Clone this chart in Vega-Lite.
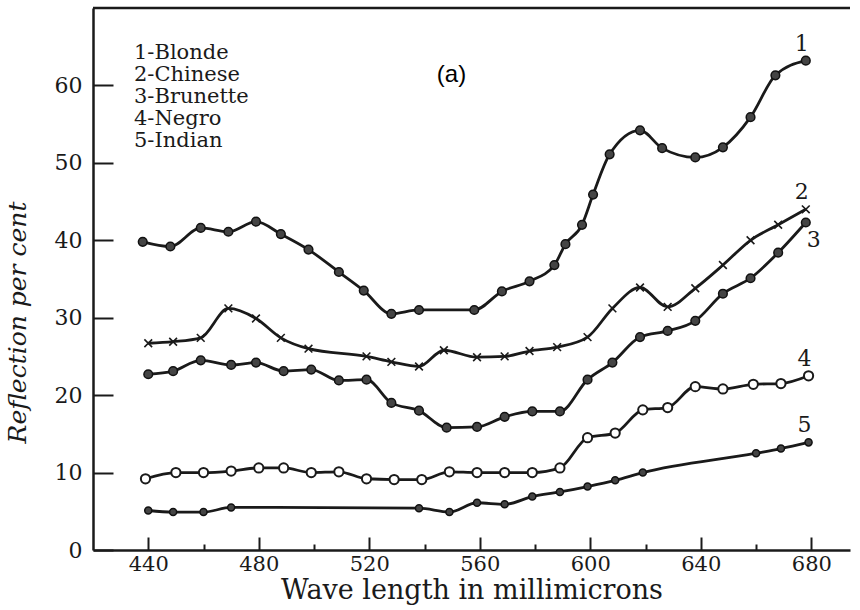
{
  "$schema": "https://vega.github.io/schema/vega-lite/v6.json",
  "width": 757,
  "height": 542,
  "autosize": {"type": "none"},
  "padding": {"left": 93, "top": 8, "right": 10, "bottom": 60},
  "background": "white",
  "config": {"view": {"stroke": null}, "font": "DejaVu Serif"},
  "title": {
    "text": "(a)",
    "font": "Liberation Sans",
    "fontSize": 24,
    "fontWeight": "normal",
    "color": "#000000",
    "anchor": "middle",
    "frame": "group",
    "orient": "top",
    "offset": 0,
    "baseline": "middle",
    "dx": -20,
    "dy": 92
  },
  "data": {
    "values": [
      {"curve": "1", "nm": 438, "refl": 39.8},
      {"curve": "1", "nm": 448, "refl": 39.2},
      {"curve": "1", "nm": 459, "refl": 41.6},
      {"curve": "1", "nm": 469, "refl": 41.1},
      {"curve": "1", "nm": 479, "refl": 42.4},
      {"curve": "1", "nm": 488, "refl": 40.8},
      {"curve": "1", "nm": 498, "refl": 38.8},
      {"curve": "1", "nm": 509, "refl": 35.9},
      {"curve": "1", "nm": 518, "refl": 33.5},
      {"curve": "1", "nm": 528, "refl": 30.5},
      {"curve": "1", "nm": 538, "refl": 31.0},
      {"curve": "1", "nm": 558, "refl": 31.0},
      {"curve": "1", "nm": 568, "refl": 33.4},
      {"curve": "1", "nm": 578, "refl": 34.7},
      {"curve": "1", "nm": 587, "refl": 36.8},
      {"curve": "1", "nm": 591, "refl": 39.5},
      {"curve": "1", "nm": 597, "refl": 42.0},
      {"curve": "1", "nm": 601, "refl": 45.9},
      {"curve": "1", "nm": 607, "refl": 51.1},
      {"curve": "1", "nm": 618, "refl": 54.2},
      {"curve": "1", "nm": 626, "refl": 51.9},
      {"curve": "1", "nm": 638, "refl": 50.7},
      {"curve": "1", "nm": 648, "refl": 52.0},
      {"curve": "1", "nm": 658, "refl": 55.9},
      {"curve": "1", "nm": 667, "refl": 61.3},
      {"curve": "1", "nm": 678, "refl": 63.2},
      {"curve": "2", "nm": 440, "refl": 26.7},
      {"curve": "2", "nm": 449, "refl": 26.9},
      {"curve": "2", "nm": 459, "refl": 27.4},
      {"curve": "2", "nm": 469, "refl": 31.2},
      {"curve": "2", "nm": 479, "refl": 29.9},
      {"curve": "2", "nm": 488, "refl": 27.4},
      {"curve": "2", "nm": 498, "refl": 26.0},
      {"curve": "2", "nm": 519, "refl": 25.0},
      {"curve": "2", "nm": 528, "refl": 24.3},
      {"curve": "2", "nm": 538, "refl": 23.7},
      {"curve": "2", "nm": 547, "refl": 25.8},
      {"curve": "2", "nm": 559, "refl": 24.9},
      {"curve": "2", "nm": 569, "refl": 25.0},
      {"curve": "2", "nm": 578, "refl": 25.7},
      {"curve": "2", "nm": 588, "refl": 26.2},
      {"curve": "2", "nm": 599, "refl": 27.5},
      {"curve": "2", "nm": 608, "refl": 31.2},
      {"curve": "2", "nm": 618, "refl": 33.9},
      {"curve": "2", "nm": 628, "refl": 31.4},
      {"curve": "2", "nm": 638, "refl": 33.8},
      {"curve": "2", "nm": 648, "refl": 36.8},
      {"curve": "2", "nm": 658, "refl": 40.0},
      {"curve": "2", "nm": 668, "refl": 42.0},
      {"curve": "2", "nm": 678, "refl": 44.0},
      {"curve": "3", "nm": 440, "refl": 22.7},
      {"curve": "3", "nm": 449, "refl": 23.1},
      {"curve": "3", "nm": 459, "refl": 24.5},
      {"curve": "3", "nm": 470, "refl": 23.9},
      {"curve": "3", "nm": 479, "refl": 24.2},
      {"curve": "3", "nm": 489, "refl": 23.1},
      {"curve": "3", "nm": 499, "refl": 23.3},
      {"curve": "3", "nm": 509, "refl": 21.9},
      {"curve": "3", "nm": 519, "refl": 22.0},
      {"curve": "3", "nm": 528, "refl": 19.0},
      {"curve": "3", "nm": 538, "refl": 18.0},
      {"curve": "3", "nm": 548, "refl": 15.8},
      {"curve": "3", "nm": 559, "refl": 15.9},
      {"curve": "3", "nm": 569, "refl": 17.2},
      {"curve": "3", "nm": 579, "refl": 17.9},
      {"curve": "3", "nm": 589, "refl": 17.9},
      {"curve": "3", "nm": 599, "refl": 22.0},
      {"curve": "3", "nm": 608, "refl": 24.2},
      {"curve": "3", "nm": 618, "refl": 27.5},
      {"curve": "3", "nm": 628, "refl": 28.3},
      {"curve": "3", "nm": 638, "refl": 29.6},
      {"curve": "3", "nm": 648, "refl": 33.1},
      {"curve": "3", "nm": 658, "refl": 35.1},
      {"curve": "3", "nm": 668, "refl": 38.4},
      {"curve": "3", "nm": 678, "refl": 42.3},
      {"curve": "4", "nm": 439, "refl": 9.2},
      {"curve": "4", "nm": 450, "refl": 10.0},
      {"curve": "4", "nm": 460, "refl": 10.0},
      {"curve": "4", "nm": 470, "refl": 10.2},
      {"curve": "4", "nm": 480, "refl": 10.6},
      {"curve": "4", "nm": 489, "refl": 10.6},
      {"curve": "4", "nm": 499, "refl": 10.0},
      {"curve": "4", "nm": 509, "refl": 10.1},
      {"curve": "4", "nm": 519, "refl": 9.2},
      {"curve": "4", "nm": 529, "refl": 9.1},
      {"curve": "4", "nm": 539, "refl": 9.1},
      {"curve": "4", "nm": 549, "refl": 10.1},
      {"curve": "4", "nm": 559, "refl": 10.0},
      {"curve": "4", "nm": 569, "refl": 10.0},
      {"curve": "4", "nm": 579, "refl": 10.0},
      {"curve": "4", "nm": 589, "refl": 10.6},
      {"curve": "4", "nm": 599, "refl": 14.5},
      {"curve": "4", "nm": 609, "refl": 15.1},
      {"curve": "4", "nm": 619, "refl": 18.1},
      {"curve": "4", "nm": 628, "refl": 18.4},
      {"curve": "4", "nm": 638, "refl": 21.1},
      {"curve": "4", "nm": 648, "refl": 20.8},
      {"curve": "4", "nm": 659, "refl": 21.4},
      {"curve": "4", "nm": 669, "refl": 21.5},
      {"curve": "4", "nm": 679, "refl": 22.5},
      {"curve": "5", "nm": 440, "refl": 5.1},
      {"curve": "5", "nm": 449, "refl": 4.9},
      {"curve": "5", "nm": 460, "refl": 4.9},
      {"curve": "5", "nm": 470, "refl": 5.5},
      {"curve": "5", "nm": 538, "refl": 5.4},
      {"curve": "5", "nm": 549, "refl": 4.9},
      {"curve": "5", "nm": 559, "refl": 6.1},
      {"curve": "5", "nm": 569, "refl": 5.9},
      {"curve": "5", "nm": 579, "refl": 6.9},
      {"curve": "5", "nm": 589, "refl": 7.5},
      {"curve": "5", "nm": 599, "refl": 8.2},
      {"curve": "5", "nm": 609, "refl": 9.0},
      {"curve": "5", "nm": 619, "refl": 10.0},
      {"curve": "5", "nm": 660, "refl": 12.5},
      {"curve": "5", "nm": 669, "refl": 13.1},
      {"curve": "5", "nm": 679, "refl": 13.9}
    ]
  },
  "layer": [
    {
      "data": {"values": [{}]},
      "mark": {"type": "rule", "strokeWidth": 2.5, "color": "#1a1a1a"},
      "encoding": {
        "y": {"datum": 70, "type": "quantitative"}
      }
    },
    {
      "mark": {"type": "line", "interpolate": "monotone", "strokeWidth": 2.8},
      "encoding": {
        "x": {
          "field": "nm",
          "type": "quantitative",
          "scale": {"domain": [420, 694], "nice": false, "zero": false},
          "axis": {
            "values": [440, 460, 480, 500, 520, 540, 560, 580, 600, 620, 640, 660, 680],
            "labelExpr": "datum.value % 40 === 0 ? datum.label : ''",
            "tickSize": {"condition": {"test": "datum.value % 40 === 0", "value": -13}, "value": -6},
            "tickWidth": 2,
            "tickColor": "#1a1a1a",
            "domainWidth": 2.5,
            "domainColor": "#1a1a1a",
            "grid": false,
            "labelPadding": 16,
            "labelFont": "DejaVu Serif",
            "labelFontSize": 21,
            "labelColor": "#1a1a1a",
            "title": "Wave length in millimicrons",
            "titleFont": "DejaVu Serif",
            "titleFontSize": 27,
            "titleFontWeight": "normal",
            "titleColor": "#1a1a1a",
            "titlePadding": 3
          }
        },
        "y": {
          "field": "refl",
          "type": "quantitative",
          "scale": {"domain": [0, 70], "nice": false},
          "axis": {
            "values": [0, 10, 20, 30, 40, 50, 60],
            "tickSize": -20,
            "tickWidth": 2,
            "tickColor": "#1a1a1a",
            "domainWidth": 2.5,
            "domainColor": "#1a1a1a",
            "grid": false,
            "labelPadding": 31,
            "labelFont": "DejaVu Serif",
            "labelFontSize": 22,
            "labelColor": "#1a1a1a",
            "title": "Reflection per cent",
            "titleFont": "DejaVu Serif",
            "titleFontStyle": "italic",
            "titleFontSize": 25,
            "titleFontWeight": "normal",
            "titleColor": "#1a1a1a",
            "titleX": -63,
            "titleY": 314
          }
        },
        "stroke": {
          "field": "curve",
          "type": "nominal",
          "scale": {"range": ["#1a1a1a", "#1a1a1a", "#1a1a1a", "#1a1a1a", "#1a1a1a"]},
          "legend": {
            "title": null,
            "orient": "none",
            "legendX": 20,
            "legendY": 34,
            "symbolSize": 0,
            "symbolStrokeWidth": 0,
            "symbolType": "stroke",
            "labelOffset": 0,
            "rowPadding": 0,
            "labelFont": "DejaVu Serif",
            "labelFontSize": 21,
            "labelColor": "#1a1a1a",
            "labelExpr": "datum.label === '1' ? '1-Blonde' : datum.label === '2' ? '2-Chinese' : datum.label === '3' ? '3-Brunette' : datum.label === '4' ? '4-Negro' : '5-Indian'"
          }
        }
      }
    },
    {
      "transform": [{"filter": {"field": "curve", "oneOf": ["1", "3"]}}],
      "mark": {"type": "point", "shape": "circle", "filled": true, "fill": "#444444", "stroke": "#111111", "strokeWidth": 1.5, "size": 75, "opacity": 1},
      "encoding": {
        "x": {"field": "nm", "type": "quantitative"},
        "y": {"field": "refl", "type": "quantitative"}
      }
    },
    {
      "transform": [{"filter": {"field": "curve", "equal": "5"}}],
      "mark": {"type": "point", "shape": "circle", "filled": true, "fill": "#444444", "stroke": "#111111", "strokeWidth": 1.5, "size": 50, "opacity": 1},
      "encoding": {
        "x": {"field": "nm", "type": "quantitative"},
        "y": {"field": "refl", "type": "quantitative"}
      }
    },
    {
      "transform": [{"filter": {"field": "curve", "equal": "4"}}],
      "mark": {"type": "point", "shape": "circle", "filled": true, "fill": "#ffffff", "stroke": "#1a1a1a", "strokeWidth": 2, "size": 85, "opacity": 1},
      "encoding": {
        "x": {"field": "nm", "type": "quantitative"},
        "y": {"field": "refl", "type": "quantitative"}
      }
    },
    {
      "transform": [{"filter": {"field": "curve", "equal": "2"}}],
      "mark": {"type": "point", "shape": "M-1,-1L1,1M-1,1L1,-1", "filled": false, "stroke": "#1a1a1a", "strokeWidth": 1.6, "size": 60, "opacity": 1},
      "encoding": {
        "x": {"field": "nm", "type": "quantitative"},
        "y": {"field": "refl", "type": "quantitative"}
      }
    },
    {
      "transform": [
        {"joinaggregate": [{"op": "max", "field": "nm", "as": "last"}], "groupby": ["curve"]},
        {"filter": "datum.nm === datum.last && datum.curve !== '3'"}
      ],
      "mark": {"type": "text", "dx": -4, "dy": -17, "font": "DejaVu Serif", "fontSize": 22, "color": "#1a1a1a"},
      "encoding": {
        "x": {"field": "nm", "type": "quantitative"},
        "y": {"field": "refl", "type": "quantitative"},
        "text": {"field": "curve"}
      }
    },
    {
      "transform": [
        {"joinaggregate": [{"op": "max", "field": "nm", "as": "last"}], "groupby": ["curve"]},
        {"filter": "datum.nm === datum.last && datum.curve === '3'"}
      ],
      "mark": {"type": "text", "dx": 8, "dy": 18, "font": "DejaVu Serif", "fontSize": 22, "color": "#1a1a1a"},
      "encoding": {
        "x": {"field": "nm", "type": "quantitative"},
        "y": {"field": "refl", "type": "quantitative"},
        "text": {"field": "curve"}
      }
    }
  ]
}
